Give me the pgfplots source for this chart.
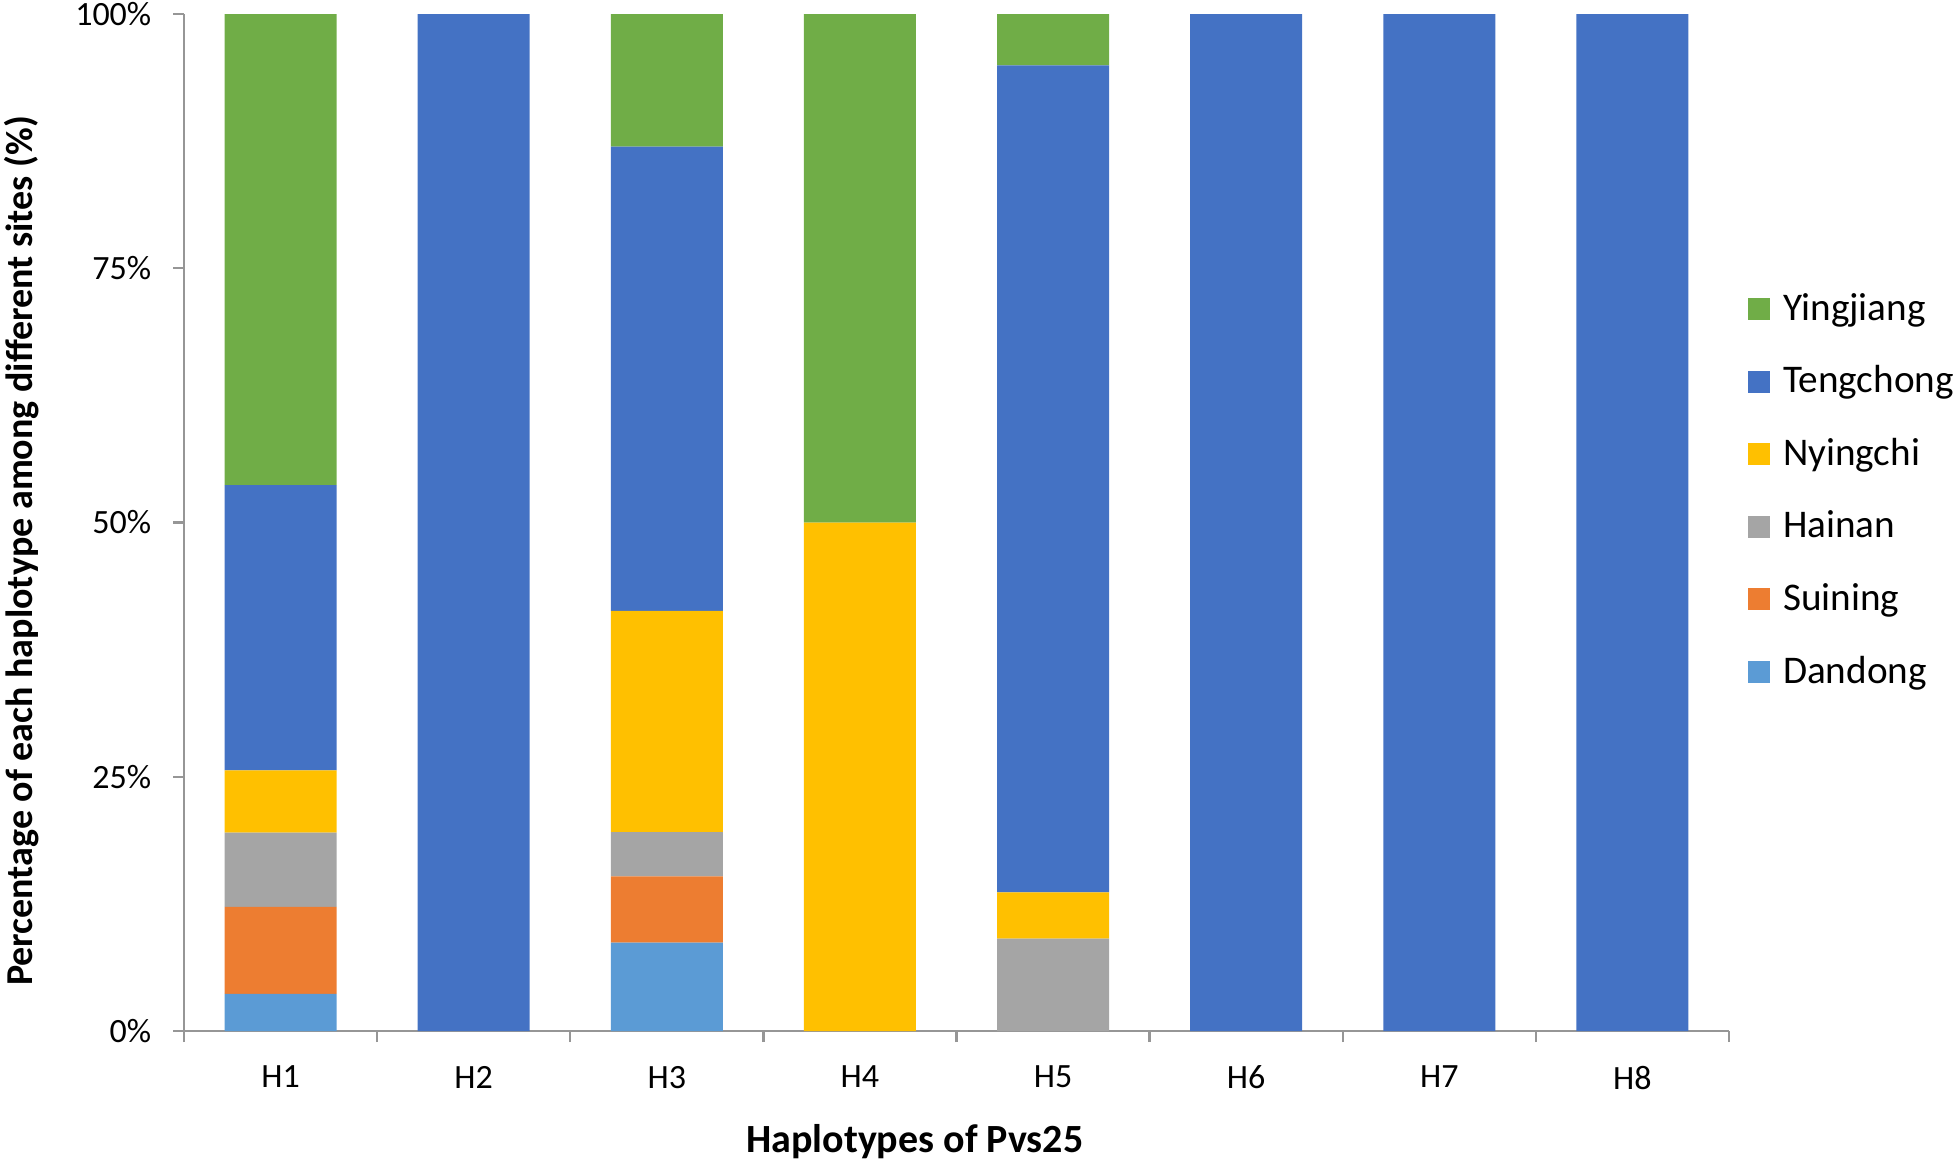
\documentclass[border=0pt]{standalone}
\usepackage{fontspec}
\setmainfont{Carlito}
\usepackage{pgfplots}
\pgfplotsset{compat=1.18}

\definecolor{dandong}{HTML}{5B9BD5}
\definecolor{suining}{HTML}{ED7D31}
\definecolor{hainan}{HTML}{A5A5A5}
\definecolor{nyingchi}{HTML}{FFC000}
\definecolor{tengchong}{HTML}{4472C4}
\definecolor{yingjiang}{HTML}{70AD47}
\definecolor{axisgray}{RGB}{150,150,150}

\begin{document}
\begin{tikzpicture}
\begin{axis}[
    width=386.25pt, height=254.25pt, scale only axis,
    ybar stacked, bar width=28pt,
    xmin=0.5, xmax=8.5, ymin=0, ymax=100,
    axis x line=bottom, axis y line=left,
    axis line style={-, draw=axisgray, line width=0.6pt},
    tick align=outside,
    major tick length=2.75pt,
    tick style={draw=axisgray, line width=0.6pt},
    xtick={0.5,1.5,...,8.5}, xticklabels={},
    extra x ticks={1,2,3,4,5,6,7,8},
    extra x tick labels={H1,H2,H3,H4,H5,H6,H7,H8},
    extra x tick style={major tick length=0pt, xticklabel style={yshift=-5.2pt}},
    ytick={0,25,50,75,100},
    yticklabels={0\%,25\%,50\%,75\%,100\%},
    yticklabel style={xshift=-1.9pt},
    tick label style={font=\fontsize{8.5}{10}\selectfont, text=black},
    xlabel={Haplotypes of Pvs25},
    xlabel style={at={(axis description cs:0.473,-0.119)}, anchor=base, inner sep=0pt,
        font=\bfseries\fontsize{10}{12}\selectfont},
    ylabel={Percentage of each haplotype among different sites (\%)},
    ylabel style={at={(axis description cs:-0.0932,0.472)}, anchor=south, inner sep=0pt,
        font=\bfseries\fontsize{9.5}{11}\selectfont},
    legend image code/.code={\fill[#1,draw=none] (0pt,-2pt) rectangle (5.5pt,3.5pt);},
    reverse legend,
    legend cell align=left,
    legend style={at={(axis description cs:1.0123,0.7247)}, anchor=north west,
        draw=none, fill=none, inner sep=0pt, outer sep=0pt, row sep=9.15pt,
        font=\fontsize{9.8}{11}\selectfont,
        nodes={inner sep=0pt, text height=6.5pt, text depth=2.5pt},
        /tikz/every odd column/.append style={column sep=3.25pt}},
]
\addplot[fill=dandong, draw=none] coordinates {(1,3.66) (2,0) (3,8.70) (4,0) (5,0) (6,0) (7,0) (8,0)};
\addplot[fill=suining, draw=none] coordinates {(1,8.54) (2,0) (3,6.52) (4,0) (5,0) (6,0) (7,0) (8,0)};
\addplot[fill=hainan, draw=none] coordinates {(1,7.32) (2,0) (3,4.35) (4,0) (5,9.09) (6,0) (7,0) (8,0)};
\addplot[fill=nyingchi, draw=none] coordinates {(1,6.10) (2,0) (3,21.74) (4,50) (5,4.55) (6,0) (7,0) (8,0)};
\addplot[fill=tengchong, draw=none] coordinates {(1,28.05) (2,100) (3,45.65) (4,0) (5,81.3) (6,100) (7,100) (8,100)};
\addplot[fill=yingjiang, draw=none] coordinates {(1,46.34) (2,0) (3,13.04) (4,50) (5,5.1) (6,0) (7,0) (8,0)};
\legend{Dandong,Suining,Hainan,Nyingchi,Tengchong,Yingjiang}
\coordinate (bbbl) at (axis description cs:-0.1191,-0.1288);
\coordinate (bbtr) at (axis description cs:1.1495,1.0138);
\end{axis}
\pgfresetboundingbox
\path (bbbl) rectangle (bbtr);
\end{tikzpicture}
\end{document}
